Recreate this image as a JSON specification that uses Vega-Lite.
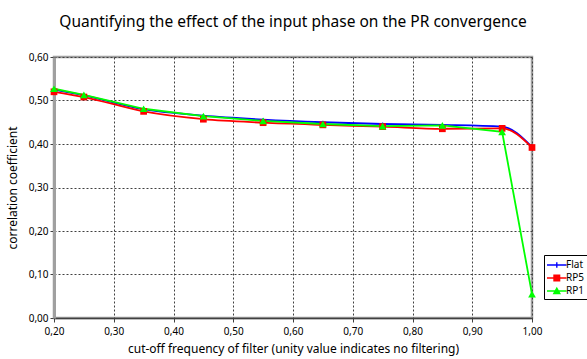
{
  "$schema": "https://vega.github.io/schema/vega-lite/v6.json",
  "width": 478,
  "height": 261,
  "autosize": {"type": "none"},
  "padding": {"left": 54, "top": 57, "right": 55, "bottom": 41},
  "background": "white",
  "config": {
    "locale": {"number": {"decimal": ",", "thousands": ".", "grouping": [3], "currency": ["", " €"]}},
    "font": "Noto Sans",
    "view": {"stroke": "#a0a0a0", "strokeWidth": 2.5},
    "axis": {"labelFont": "Noto Sans", "titleFont": "Noto Sans", "labelFontSize": 10, "titleFontSize": 12, "titleFontWeight": "normal", "labelColor": "black", "titleColor": "black", "gridColor": "#404040", "gridDash": [2, 2], "gridWidth": 1, "tickColor": "#404040", "tickSize": 4, "labelFlush": false},
    "legend": {"title": null, "orient": "none", "legendX": 490, "legendY": 198, "strokeColor": "black", "fillColor": "white", "padding": 3, "labelFont": "Noto Sans", "labelFontSize": 10, "labelColor": "black", "rowPadding": 1, "labelOffset": 5, "symbolStrokeWidth": 0, "symbolSize": 196}
  },
  "title": {"text": "Quantifying the effect of the input phase on the PR convergence", "font": "Noto Sans", "fontSize": 15.5, "fontWeight": "normal", "color": "black", "anchor": "middle", "offset": 22},
  "data": {"values": [
    {"x": 0.20, "series": "Flat", "y": 0.525},
    {"x": 0.25, "series": "Flat", "y": 0.512},
    {"x": 0.35, "series": "Flat", "y": 0.480},
    {"x": 0.45, "series": "Flat", "y": 0.465},
    {"x": 0.55, "series": "Flat", "y": 0.456},
    {"x": 0.65, "series": "Flat", "y": 0.450},
    {"x": 0.75, "series": "Flat", "y": 0.446},
    {"x": 0.85, "series": "Flat", "y": 0.444},
    {"x": 0.95, "series": "Flat", "y": 0.440},
    {"x": 1.00, "series": "Flat", "y": 0.393},
    {"x": 0.20, "series": "RP5", "y": 0.520},
    {"x": 0.25, "series": "RP5", "y": 0.508},
    {"x": 0.35, "series": "RP5", "y": 0.475},
    {"x": 0.45, "series": "RP5", "y": 0.457},
    {"x": 0.55, "series": "RP5", "y": 0.449},
    {"x": 0.65, "series": "RP5", "y": 0.444},
    {"x": 0.75, "series": "RP5", "y": 0.440},
    {"x": 0.85, "series": "RP5", "y": 0.435},
    {"x": 0.95, "series": "RP5", "y": 0.436},
    {"x": 1.00, "series": "RP5", "y": 0.392},
    {"x": 0.20, "series": "RP1", "y": 0.527},
    {"x": 0.25, "series": "RP1", "y": 0.513},
    {"x": 0.35, "series": "RP1", "y": 0.481},
    {"x": 0.45, "series": "RP1", "y": 0.464},
    {"x": 0.55, "series": "RP1", "y": 0.453},
    {"x": 0.65, "series": "RP1", "y": 0.446},
    {"x": 0.75, "series": "RP1", "y": 0.441},
    {"x": 0.85, "series": "RP1", "y": 0.443},
    {"x": 0.95, "series": "RP1", "y": 0.428},
    {"x": 1.00, "series": "RP1", "y": 0.055}
  ]},
  "encoding": {
    "x": {"field": "x", "type": "quantitative", "scale": {"domain": [0.2, 1.0], "nice": false, "zero": false}, "axis": {"values": [0.2, 0.3, 0.4, 0.5, 0.6, 0.7, 0.8, 0.9, 1.0], "format": ".2f", "title": "cut-off frequency of filter (unity value indicates no filtering)", "domainColor": "#404040", "domainWidth": 1.5, "labelPadding": 4, "titlePadding": 7}},
    "y": {"field": "y", "type": "quantitative", "scale": {"domain": [0, 0.6], "nice": false}, "axis": {"values": [0, 0.1, 0.2, 0.3, 0.4, 0.5, 0.6], "format": ".2f", "title": "correlation coefficient", "domainColor": "#a0a0a0", "domainWidth": 3, "titlePadding": 9}},
    "color": {"field": "series", "type": "nominal", "scale": {"domain": ["Flat", "RP5", "RP1"], "range": ["#0000ff", "#ff0000", "#00ff00"]}}
  },
  "layer": [
    {"transform": [{"filter": "false"}], "mark": {"type": "point", "filled": true, "opacity": 1}, "encoding": {
      "shape": {"field": "series", "type": "nominal", "scale": {"domain": ["Flat", "RP5", "RP1"], "range": ["M-1,-0.12H1.8V0.12H-1Z M0.3,-0.4H0.5V0.4H0.3Z", "M-1,-0.12H1.8V0.12H-1Z M-0.1,-0.5H0.9V0.5H-0.1Z", "M-1,-0.12H1.8V0.12H-1Z M0.4,-0.6L1.0,0.45H-0.2Z"]}}
    }},
    {"transform": [{"filter": "datum.series != 'RP1'"}], "mark": {"type": "line", "interpolate": "monotone", "strokeWidth": 1.8}, "encoding": {"order": {"field": "x"}}},
    {"transform": [{"filter": "datum.series == 'RP1'"}], "mark": {"type": "line", "interpolate": "linear", "strokeWidth": 1.8}, "encoding": {"order": {"field": "x"}}},
    {"transform": [{"filter": "datum.series == 'Flat'"}], "mark": {"type": "point", "filled": true, "opacity": 1, "shape": "cross", "size": 8}},
    {"transform": [{"filter": "datum.series == 'RP5'"}], "mark": {"type": "point", "filled": true, "opacity": 1, "shape": "square", "size": 45}},
    {"transform": [{"filter": "datum.series == 'RP1'"}], "mark": {"type": "point", "filled": true, "opacity": 1, "shape": "triangle-up", "size": 60}}
  ]
}
